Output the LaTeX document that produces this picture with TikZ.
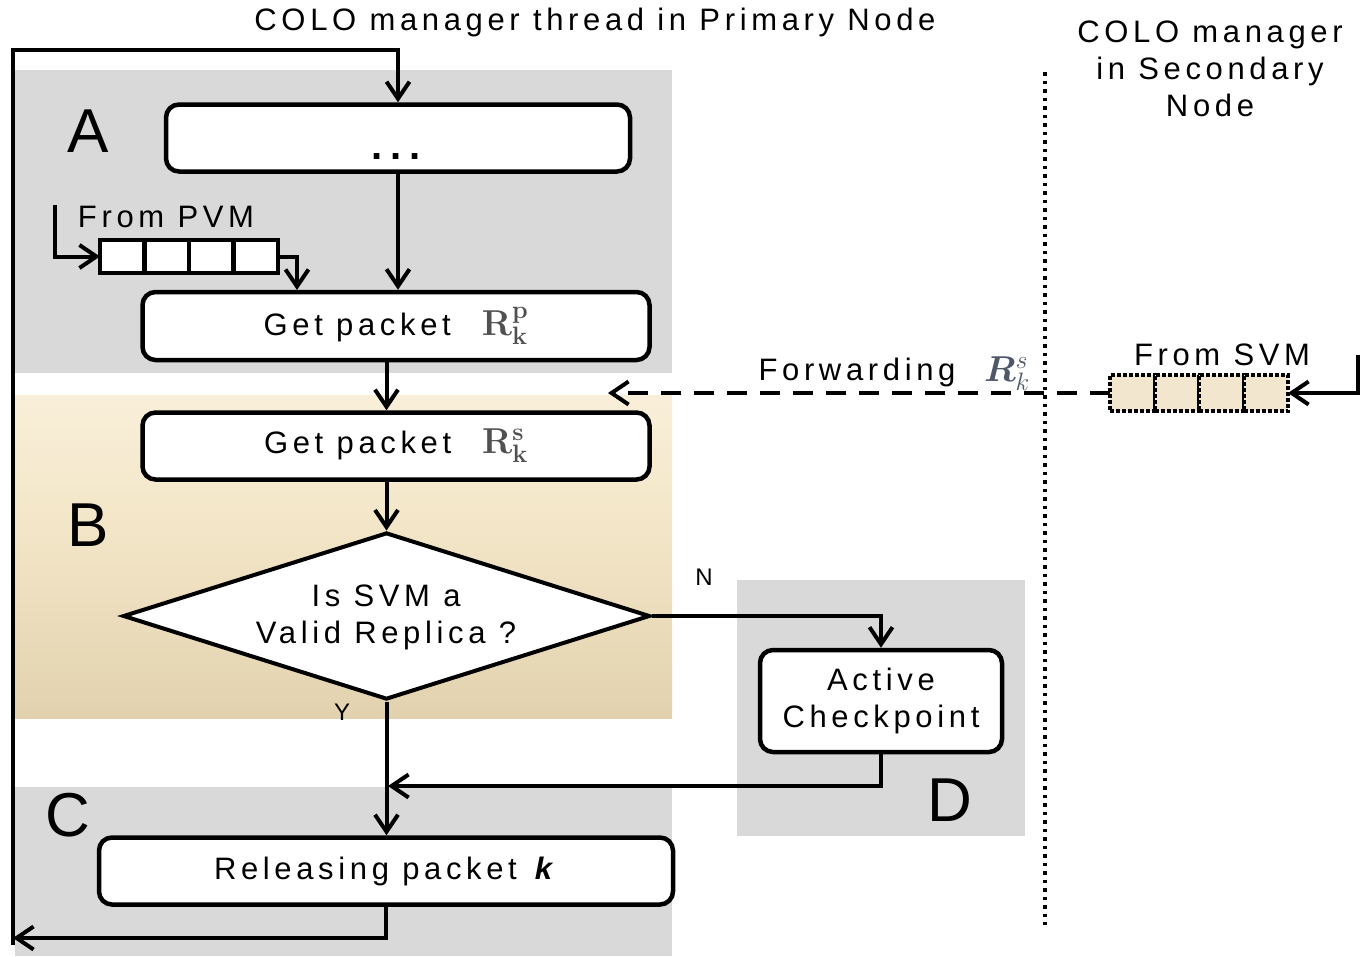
\documentclass[tikz,border=0pt]{standalone}
\usepackage{fix-cm}
\usepackage[no-math]{fontspec}
\usepackage{amsmath,bm}
\setmainfont{Liberation Sans}[LetterSpace=15]
\newfontfamily\plainsans{Liberation Sans}
\usetikzlibrary{arrows.meta,shapes.geometric,calc}
\definecolor{bgray}{HTML}{D9D9D9}
\definecolor{creamA}{HTML}{FCF4E2}
\definecolor{creamB}{HTML}{F3E6C8}
\definecolor{tanA}{HTML}{E3D3B0}
\definecolor{tanB}{HTML}{D2BE98}
\definecolor{tanC}{HTML}{C8B289}
\definecolor{qfill}{HTML}{F2E6CF}
\definecolor{rgray}{HTML}{505050}
\definecolor{rblue}{HTML}{4F5868}
\pgfdeclareverticalshading{bshade}{100bp}{color(0bp)=(tanC); color(4bp)=(tanC); color(12bp)=(tanB); color(27bp)=(tanA); color(55bp)=(creamB); color(85bp)=(creamA); color(100bp)=(creamA)}
\begin{document}
\begin{tikzpicture}[x=1pt,y=-1pt,line width=4pt,
  arr/.style={-{Straight Barb[length=17pt,width=23pt,line width=4pt]}},
  box/.style={draw,line width=4.5pt,rounded corners=13pt,fill=white,inner sep=0pt},
  txt/.style={font=\fontsize{31}{37}\selectfont,inner sep=0pt},
  big/.style={font=\plainsans\fontsize{62}{62}\selectfont,inner sep=0pt},
  small/.style={font=\fontsize{24}{28}\selectfont,inner sep=0pt},
  cell/.style={draw,line width=4.5pt,fill=white,minimum width=44.5pt,minimum height=33pt,inner sep=0pt,outer sep=0pt},
  scell/.style={draw,dotted,line width=4pt,fill=qfill,minimum width=44.5pt,minimum height=36pt,inner sep=0pt,outer sep=0pt}
]
\useasboundingbox (0,0) rectangle (1362,956);
\fill[white] (0,0) rectangle (1362,956);
% regions
\fill[bgray] (15,70) rectangle (672,373);
\shade[shading=bshade] (15,395) rectangle (672,718);
\fill[bgray] (15,787) rectangle (672,956);
\fill[bgray] (737,580) rectangle (1025,836);
% separator
\draw[line width=4pt,dash pattern=on 3.5pt off 5pt] (1045,72) -- (1045,925);
% titles
\node[txt] (title) at (595,22) {COLO manager thread in Primary Node};
\node[txt,align=center] (sec) at (1210,69) {COLO manager\\in Secondary\\Node};
% letters
\node[big] (la) at (88,131) {A};
\node[big] (lb) at (88,525) {B};
\node[big] (lc) at (68,815) {C};
\node[big] (ld) at (950,800) {D};
% boxes
\node[box,minimum width=464pt,minimum height=67pt] (dots) at (398,138) {};
\node[font=\plainsans\fontsize{40}{40}\selectfont\bfseries,inner sep=0pt,anchor=base] (dotst) at (396,159) {.\hspace{8pt}.\hspace{8pt}.};
\node[box,txt,minimum width=507pt,minimum height=68pt] (rp) at (396,326) {Get packet\quad{\color{rgray}\fontsize{36}{36}\selectfont$\mathbf{R}^{\mathbf{p}}_{\mathbf{k}}$}};
\node[box,txt,minimum width=507pt,minimum height=67pt] (rs) at (396,446) {Get packet\quad{\color{rgray}\fontsize{36}{36}\selectfont$\mathbf{R}^{\mathbf{s}}_{\mathbf{k}}$}};
\node[draw,fill=white,diamond,aspect=3.156,minimum width=527pt,minimum height=167pt,inner sep=0pt] (dia) at (386.5,616) {};
\node[txt,align=center] (diat) at (386,617) {Is SVM a\\Valid Replica ?};
\node[box,txt,align=center,minimum width=242pt,minimum height=102pt] (act) at (881,701) {Active\\Checkpoint};
\node[box,txt,minimum width=574pt,minimum height=67pt] (rel) at (386,871) {Releasing packet \textbf{\textit{k}}};
% labels
\node[small] (ln) at (704,577) {N};
\node[small] (ly) at (342,712) {Y};
\node[txt] (fpvm) at (166,217) {From PVM};
\node[txt] (fsvm) at (1222,355) {From SVM};
\node[txt] (fwdt) at (857,372) {Forwarding};
\node[inner sep=0pt,font=\fontsize{36}{36}\selectfont] (fwdr) at (1007,374) {\color{rblue}$\bm{R}^{s}_{k}$};
% PVM queue
\node[cell] (q1) at (122.25,256.5) {};
\node[cell,anchor=west] (q2) at (q1.east) {};
\node[cell,anchor=west] (q3) at (q2.east) {};
\node[cell,anchor=west] (q4) at (q3.east) {};
% SVM queue
\fill[qfill,rounded corners=6pt] (1110,375) rectangle (1288,411);
\node[scell] (s1) at (1132.25,393) {};
\node[scell,anchor=west] (s2) at (s1.east) {};
\node[scell,anchor=west] (s3) at (s2.east) {};
\node[scell,anchor=west] (s4) at (s3.east) {};
% coordinates
\coordinate (lbl) at (13,938);
\coordinate (ltl) at (13,50);
\coordinate (jn) at (388,786);
\coordinate (pin) at (55,205);
\coordinate (pout) at (297,290);
\coordinate (fwd) at (608,393);
\coordinate (sin) at (1358,355);
% connectors
\draw[arr] (rel.south) |- (lbl);
\draw[arr] (13,945) -- (ltl) -| (dots.north);
\draw[arr] (dots.south) -- (dots.south |- rp.north);
\draw[arr] (rp.south -| dia.north) -- (rs.north -| dia.north);
\draw[arr] (rs.south -| dia.north) -- (dia.north);
\draw[arr] (dia.east) -| (act.north);
\draw[arr] (dia.south) -- (rel.north -| dia.south);
\draw[arr] (act.south) |- (jn);
\draw[arr] (pin) |- (q1.west);
\draw[arr] (q4.east) -| (pout);
\draw[arr,dash pattern=on 20pt off 13pt] (s1.west) -- (fwd);
\draw[arr] (sin) |- (s4.east);
\end{tikzpicture}
\end{document}
